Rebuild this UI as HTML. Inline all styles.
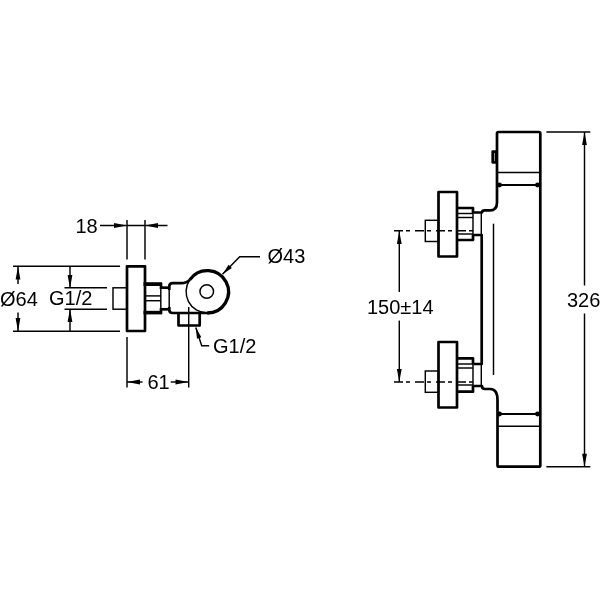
<!DOCTYPE html>
<html><head><meta charset="utf-8">
<style>
html,body{margin:0;padding:0;background:#fff;width:600px;height:600px;overflow:hidden}
svg{display:block;will-change:transform}
text{font-family:"Liberation Sans",sans-serif;font-size:20px;fill:#000}
.t{stroke:#000;stroke-width:1.45;fill:none}
.k{stroke:#000;stroke-width:2.7;fill:none;stroke-linejoin:round}
.m{stroke:#000;stroke-width:2;fill:none}
.a{fill:#000;stroke:none}
</style></head>
<body>
<svg width="600" height="600" viewBox="0 0 600 600">
<!-- ===== LEFT VIEW ===== -->
<!-- 18 dim -->
<text x="75.5" y="232.7">18</text>
<line class="t" x1="100" y1="225.5" x2="167.5" y2="225.5"/>
<polygon class="a" points="127,225.5 114,223.1 114,227.9"/>
<polygon class="a" points="145,225.5 158,223.1 158,227.9"/>
<line class="t" x1="127" y1="220" x2="127" y2="259.5"/>
<line class="t" x1="145" y1="220" x2="145" y2="259.5"/>

<!-- O64 dim -->
<line class="t" x1="13" y1="266.3" x2="120" y2="266.3"/>
<line class="t" x1="13" y1="331.2" x2="120" y2="331.2"/>
<line class="t" x1="18" y1="266.5" x2="18" y2="284"/>
<polygon class="a" points="18,266.5 15.6,279.5 20.4,279.5"/>
<line class="t" x1="18" y1="312.5" x2="18" y2="331"/>
<polygon class="a" points="18,331 15.6,318 20.4,318"/>
<text x="0" y="305.8">Ø64</text>

<!-- G1/2 dim -->
<line class="t" x1="64.5" y1="287.8" x2="107" y2="287.8"/>
<line class="t" x1="64.5" y1="309.2" x2="107" y2="309.2"/>
<line class="t" x1="70" y1="266.5" x2="70" y2="288"/>
<polygon class="a" points="70,288 67.6,275 72.4,275"/>
<line class="t" x1="70" y1="309" x2="70" y2="331"/>
<polygon class="a" points="70,309 67.6,322 72.4,322"/>
<text x="49" y="305.3">G1/2</text>

<!-- pipe stub -->
<rect class="t" x="113" y="287.8" width="14" height="21.4"/>
<!-- flange -->
<rect class="k" x="127" y="266.3" width="18" height="64.7"/>
<!-- nut -->
<line class="k" style="stroke-width:3.8" x1="143.5" y1="284.1" x2="162" y2="284.1"/>
<line class="k" style="stroke-width:3.6" x1="143.5" y1="312.6" x2="162" y2="312.6"/>
<line class="t" x1="160.8" y1="284" x2="160.8" y2="313"/>
<line class="k" x1="161" y1="283" x2="161" y2="289"/>
<line class="k" x1="161" y1="308" x2="161" y2="314"/>
<line class="t" x1="145" y1="295.9" x2="161" y2="295.9"/>
<line class="t" x1="145" y1="300.7" x2="161" y2="300.7"/>
<!-- neck -->
<line class="k" x1="161.5" y1="287.7" x2="169.3" y2="287.7"/>
<line class="k" x1="161.5" y1="309.3" x2="169.3" y2="309.3"/>
<line class="t" x1="169.2" y1="287.5" x2="169.2" y2="309.5"/>
<!-- body -->
<path class="k" d="M169.3,290 L169.3,286.5 Q169.3,283.2 172.6,283.2 L181.5,283.2 Q186.5,283.2 189.94,279.63"/>
<path class="k" style="stroke-width:3.3" d="M189.94,279.63 A21.2,21.2 0 1 1 207.3,313"/>
<path class="k" d="M209,313 L172.6,313 Q169.3,313 169.3,309.8 L169.3,307"/>
<path class="t" d="M207.3,313 A21.2,21.2 0 0 1 189.94,279.63"/>
<circle class="t" cx="206.75" cy="291.5" r="6.8" style="stroke-width:1.5"/>
<!-- outlet -->
<path class="k" d="M178.5,312.9 L178.5,325.5 L199.7,325.5 L199.7,312.9"/>
<!-- center line -->
<line class="t" x1="188.7" y1="307" x2="188.7" y2="387.5"/>

<!-- 61 dim -->
<line class="t" x1="127" y1="337" x2="127" y2="387.5"/>
<line class="t" x1="127" y1="382" x2="142.5" y2="382"/>
<polygon class="a" points="127,382 140,379.6 140,384.4"/>
<line class="t" x1="170.8" y1="382" x2="188.5" y2="382"/>
<polygon class="a" points="188.5,382 175.5,379.6 175.5,384.4"/>
<text x="147.5" y="388.8">61</text>

<!-- O43 leader -->
<polyline class="t" points="222.5,274.2 239.7,256.7 260,256.7"/>
<polygon class="a" points="222.5,274.2 228.57,264.75 231.85,267.97"/>
<text x="267.5" y="263.3">Ø43</text>

<!-- G1/2 leader -->
<polyline class="t" points="195.8,327.5 201.7,345.8 209.2,345.8"/>
<polygon class="a" points="195.8,327.5 201.37,337.27 196.99,338.69"/>
<text x="213" y="352.5">G1/2</text>

<!-- ===== RIGHT VIEW ===== -->
<!-- body outline -->
<path class="k" d="M473.3,212.5 L482,212.5 Q482,210.4 485,210.4 L490,210.4 Q497,210.4 497,202.5 L497,133.5 Q497,132 498.5,132 L538.8,132 Q540.3,132 540.3,133.5 L540.3,465.2 Q540.3,466.7 538.8,466.7 L499,466.7 Q497.5,466.7 497.5,465.2 L497.5,400 Q497.5,389 490,389 L485,389 Q482,389 482,386 L473.3,386"/>
<path class="k" d="M473.3,235 L481.7,235 L481.7,364 L473.3,364"/>
<line class="t" x1="481.3" y1="212.5" x2="481.3" y2="235"/>
<line class="t" x1="481.3" y1="364" x2="481.3" y2="386"/>
<!-- bump -->
<path class="k" d="M497,151.6 L492.7,151.6 L492.7,162.3 L497,162.3"/>
<line class="t" x1="495.3" y1="152" x2="495.3" y2="162"/>
<!-- horizontal lines -->
<line class="t" x1="497" y1="172.4" x2="540" y2="172.4"/>
<line class="m" x1="497" y1="185" x2="540" y2="185"/>
<circle class="a" cx="499.5" cy="185" r="2.4"/>
<circle class="a" cx="537.5" cy="185" r="2.4"/>
<line class="m" x1="497" y1="414" x2="540" y2="414"/>
<circle class="a" cx="499.5" cy="414" r="2.4"/>
<circle class="a" cx="537.5" cy="414" r="2.4"/>
<line class="t" x1="497" y1="426.2" x2="540" y2="426.2"/>
<line class="t" x1="493.5" y1="223.7" x2="493.5" y2="375"/>

<!-- upper valve -->
<rect class="k" x="438.5" y="192" width="18.5" height="64.5"/>
<rect class="t" x="425.3" y="220.3" width="13.2" height="21.2"/>
<path class="k" d="M457,208 L473,208 L473,213"/>
<path class="k" d="M457,240 L473,240 L473,235"/>
<line class="t" x1="473" y1="208" x2="473" y2="240"/>
<line class="t" x1="457" y1="213.5" x2="473" y2="213.5"/>
<line class="t" x1="457" y1="217.5" x2="473" y2="217.5"/>
<line class="t" x1="457" y1="234" x2="473" y2="234"/>
<line class="t" x1="394" y1="230.8" x2="477" y2="230.8" stroke-dasharray="9 3 4 5" style="stroke-width:1.6"/>

<!-- lower valve -->
<rect class="k" x="438.5" y="342" width="18.5" height="65.5"/>
<rect class="t" x="425.3" y="371" width="13.2" height="21.3"/>
<path class="k" d="M457,358.3 L473,358.3 L473,363.5"/>
<path class="k" d="M457,391.7 L473,391.7 L473,386"/>
<line class="t" x1="473" y1="358.3" x2="473" y2="391.7"/>
<line class="t" x1="457" y1="364" x2="473" y2="364"/>
<line class="t" x1="457" y1="368" x2="473" y2="368"/>
<line class="t" x1="457" y1="385" x2="473" y2="385"/>
<line class="t" x1="394" y1="382" x2="477" y2="382" stroke-dasharray="9 3 4 5" style="stroke-width:1.6"/>

<!-- 150±14 dim -->
<line class="t" x1="399.3" y1="231" x2="399.3" y2="292"/>
<polygon class="a" points="399.3,231 396.9,244 401.7,244"/>
<line class="t" x1="399.3" y1="320.6" x2="399.3" y2="382"/>
<polygon class="a" points="399.3,382 396.9,369 401.7,369"/>
<text x="367" y="313.7">150±14</text>

<!-- 326 dim -->
<line class="t" x1="546.4" y1="132" x2="590.3" y2="132"/>
<line class="t" x1="546.4" y1="466.7" x2="590.3" y2="466.7"/>
<line class="t" x1="584.5" y1="132" x2="584.5" y2="285.5"/>
<polygon class="a" points="584.5,132 582.1,145 586.9,145"/>
<line class="t" x1="584.5" y1="313.5" x2="584.5" y2="466.7"/>
<polygon class="a" points="584.5,466.7 582.1,453.7 586.9,453.7"/>
<text x="567" y="306.5">326</text>
</svg>
</body></html>
